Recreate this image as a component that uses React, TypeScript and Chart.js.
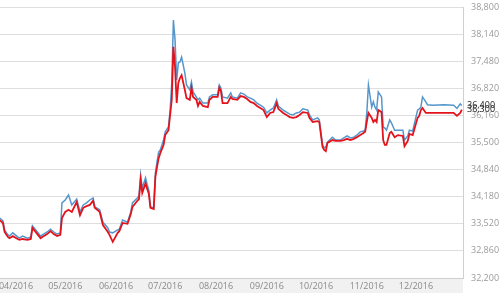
import { useEffect, useRef } from "react";
import { Chart, registerables } from "chart.js";

Chart.register(...registerables);

// days counted from 2016-04-01
const dayOffsets = [
  -10, -8, -7, -5, -4, -2, 1, 2, 4, 7, 9, 10, 13, 15, 16, 19, 21, 23, 25, 27,
  28, 30, 32, 34, 37, 39, 41, 43, 45, 47, 48, 51, 53, 56, 57, 59, 62, 63, 65, 68,
  70, 71, 74, 75, 76, 77, 79, 80, 81, 82, 84, 85, 86, 87, 88, 90, 91, 93, 94, 95,
  96, 97, 98, 99, 100, 101, 103, 104, 106, 107, 108, 110, 111, 112, 114, 117, 118, 120, 123, 124,
  125, 126, 129, 131, 132, 135, 137, 139, 141, 143, 145, 147, 149, 151, 153, 155, 157, 159, 160, 163,
  165, 167, 169, 171, 173, 175, 178, 179, 181, 184, 185, 187, 188, 189, 190, 193, 195, 198, 200, 202,
  204, 206, 208, 210, 212, 213, 214, 215, 217, 218, 219, 220, 221, 223, 224, 225, 226, 228, 229, 231,
  233, 236, 237, 239, 240, 242, 245, 246, 247, 248, 250, 251, 254, 261, 267, 269, 271, 272,
];

const sellPrices = [
  33660, 33590, 33370, 33250, 33220, 33300, 33200, 33170, 33220, 33170, 33200, 33470, 33320, 33220, 33250, 33320, 33390, 33320, 33270, 33300,
  34030, 34100, 34220, 33980, 34120, 33810, 33980, 34030, 34100, 34150, 33930, 33860, 33560, 33420, 33320, 33300, 33370, 33390, 33610, 33560,
  33810, 34030, 34150, 34200, 34710, 34390, 34640, 34470, 34340, 33930, 33910, 34760, 35030, 35270, 35320, 35560, 35760, 35880, 36290, 36950,
  38480, 38000, 37020, 37440, 37460, 37580, 37190, 36900, 36780, 36970, 36730, 36610, 36540, 36580, 36460, 36460, 36610, 36660, 36660, 36900,
  36830, 36610, 36580, 36710, 36610, 36580, 36710, 36680, 36610, 36580, 36540, 36460, 36410, 36360, 36220, 36290, 36340, 36540, 36390, 36290,
  36240, 36190, 36170, 36220, 36240, 36320, 36290, 36170, 36050, 36100, 36050, 35440, 35370, 35390, 35510, 35630, 35560, 35560, 35610, 35660,
  35610, 35630, 35680, 35760, 35780, 35800, 36220, 36900, 36360, 36490, 36360, 36290, 36730, 36610, 35880, 35850, 35800, 36050, 35980, 35800,
  35800, 35800, 35560, 35660, 35800, 35780, 36290, 36320, 36360, 36610, 36490, 36420, 36410, 36420, 36410, 36330, 36440, 36400,
];

const buyPrices = [
  33610, 33540, 33320, 33200, 33170, 33220, 33150, 33130, 33150, 33130, 33150, 33420, 33270, 33170, 33200, 33270, 33340, 33270, 33220, 33250,
  33660, 33810, 33860, 33810, 34050, 33730, 33910, 33950, 33980, 34080, 33910, 33810, 33490, 33320, 33250, 33080, 33300, 33340, 33540, 33520,
  33760, 33930, 34080, 34120, 34590, 34270, 34510, 34370, 34250, 33910, 33880, 34660, 34900, 35120, 35240, 35440, 35680, 35800, 36170, 36540,
  37830, 37340, 36460, 36950, 37070, 37140, 36780, 36580, 36540, 36830, 36610, 36540, 36390, 36490, 36390, 36360, 36540, 36610, 36610, 36830,
  36750, 36460, 36460, 36610, 36560, 36540, 36630, 36610, 36560, 36490, 36460, 36390, 36340, 36290, 36120, 36220, 36240, 36460, 36320, 36220,
  36170, 36120, 36100, 36120, 36170, 36240, 36220, 36100, 36000, 36020, 36000, 35390, 35320, 35290, 35490, 35560, 35540, 35540, 35560, 35590,
  35560, 35590, 35630, 35680, 35730, 35760, 36000, 36220, 36100, 36000, 36050, 36000, 36290, 36240, 35560, 35440, 35440, 35730, 35760, 35630,
  35680, 35660, 35410, 35540, 35710, 35680, 36100, 36150, 36290, 36340, 36220, 36220, 36220, 36220, 36220, 36150, 36220, 36300,
];

const monthTickDays = [0, 30, 61, 91, 122, 153, 183, 214, 244];
const monthTickLabels = ["04/2016", "05/2016", "06/2016", "07/2016", "08/2016", "09/2016", "10/2016", "11/2016", "12/2016"];
const yTickValues = [32200, 32860, 33520, 34180, 34840, 35500, 36160, 36820, 37480, 38140, 38800];

const fmt = (v: number) => v.toLocaleString("en-US");

export default function App() {
  const ref = useRef<HTMLCanvasElement | null>(null);

  useEffect(() => {
    document.body.style.margin = "0";
    if (!ref.current) return;

    const bgPlugin = {
      id: "bgPlugin",
      beforeDraw(chart: any) {
        const { ctx, chartArea } = chart;
        ctx.save();
        ctx.fillStyle = "#ffffff";
        ctx.fillRect(0, 0, chart.width, chart.height);
        ctx.fillStyle = "#f1f1f1";
        ctx.fillRect(0, chartArea.bottom, chartArea.right, chart.height - chartArea.bottom);
        ctx.restore();
      },
    };

    const lastLabelPlugin = {
      id: "lastLabelPlugin",
      afterDraw(chart: any) {
        const { ctx, chartArea } = chart;
        const yScale = chart.scales.y;
        ctx.save();
        ctx.font = "9px 'Open Sans'";
        ctx.fillStyle = "#222";
        ctx.textAlign = "left";
        ctx.textBaseline = "middle";
        const vals = [buyPrices[buyPrices.length - 1], sellPrices[sellPrices.length - 1]];
        vals.forEach((v) => {
          ctx.fillText(fmt(v), chartArea.right + 4, yScale.getPixelForValue(v));
        });
        ctx.restore();
      },
    };

    const chart = new Chart(ref.current, {
      type: "line",
      data: {
        datasets: [
          {
            label: "Bán",
            data: dayOffsets.map((d, i) => ({ x: d, y: sellPrices[i] })),
            borderColor: "#5596cb",
            borderWidth: 1.5,
            pointRadius: 0,
            tension: 0,
            order: 2,
          },
          {
            label: "Mua",
            data: dayOffsets.map((d, i) => ({ x: d, y: buyPrices[i] })),
            borderColor: "#e3131c",
            borderWidth: 1.8,
            pointRadius: 0,
            tension: 0,
            order: 1,
          },
        ],
      },
      options: {
        animation: false,
        responsive: true,
        maintainAspectRatio: false,
        layout: { padding: { top: 7, left: 0, right: 0, bottom: 0 } },
        plugins: { legend: { display: false }, tooltip: { enabled: false } },
        scales: {
          x: {
            type: "linear",
            min: -9.8,
            max: 272.7,
            grid: { display: false, drawTicks: false },
            border: { display: true, color: "#cfcfcf" },
            afterBuildTicks: (scale: any) => {
              scale.ticks = monthTickDays.map((v) => ({ value: v }));
            },
            afterFit: (scale: any) => {
              scale.height = 15;
              scale.paddingLeft = 0;
              scale.paddingRight = 0;
            },
            ticks: {
              autoSkip: false,
              maxRotation: 0,
              padding: 3,
              color: "#8a8a8a",
              font: { family: "'Open Sans'", size: 9 },
              callback: (v: any) => {
                const i = monthTickDays.indexOf(Number(v));
                return i >= 0 ? monthTickLabels[i] : "";
              },
            },
          },
          y: {
            position: "right",
            min: 32200,
            max: 38800,
            grid: { color: "#dedede", drawTicks: false },
            border: { display: true, color: "#d0d0d0" },
            afterBuildTicks: (scale: any) => {
              scale.ticks = yTickValues.map((v) => ({ value: v }));
            },
            afterFit: (scale: any) => {
              scale.width = 37;
              scale.paddingTop = 0;
              scale.paddingBottom = 0;
            },
            ticks: {
              padding: 8,
              color: "#9a9a9a",
              font: { family: "'Open Sans'", size: 9 },
              callback: (v: any) => fmt(Number(v)),
            },
          },
        },
      },
      plugins: [bgPlugin, lastLabelPlugin],
    } as any);

    return () => chart.destroy();
  }, []);

  return (
    <div style={{ position: "relative", width: 500, height: 293 }}>
      <canvas ref={ref} />
    </div>
  );
}
